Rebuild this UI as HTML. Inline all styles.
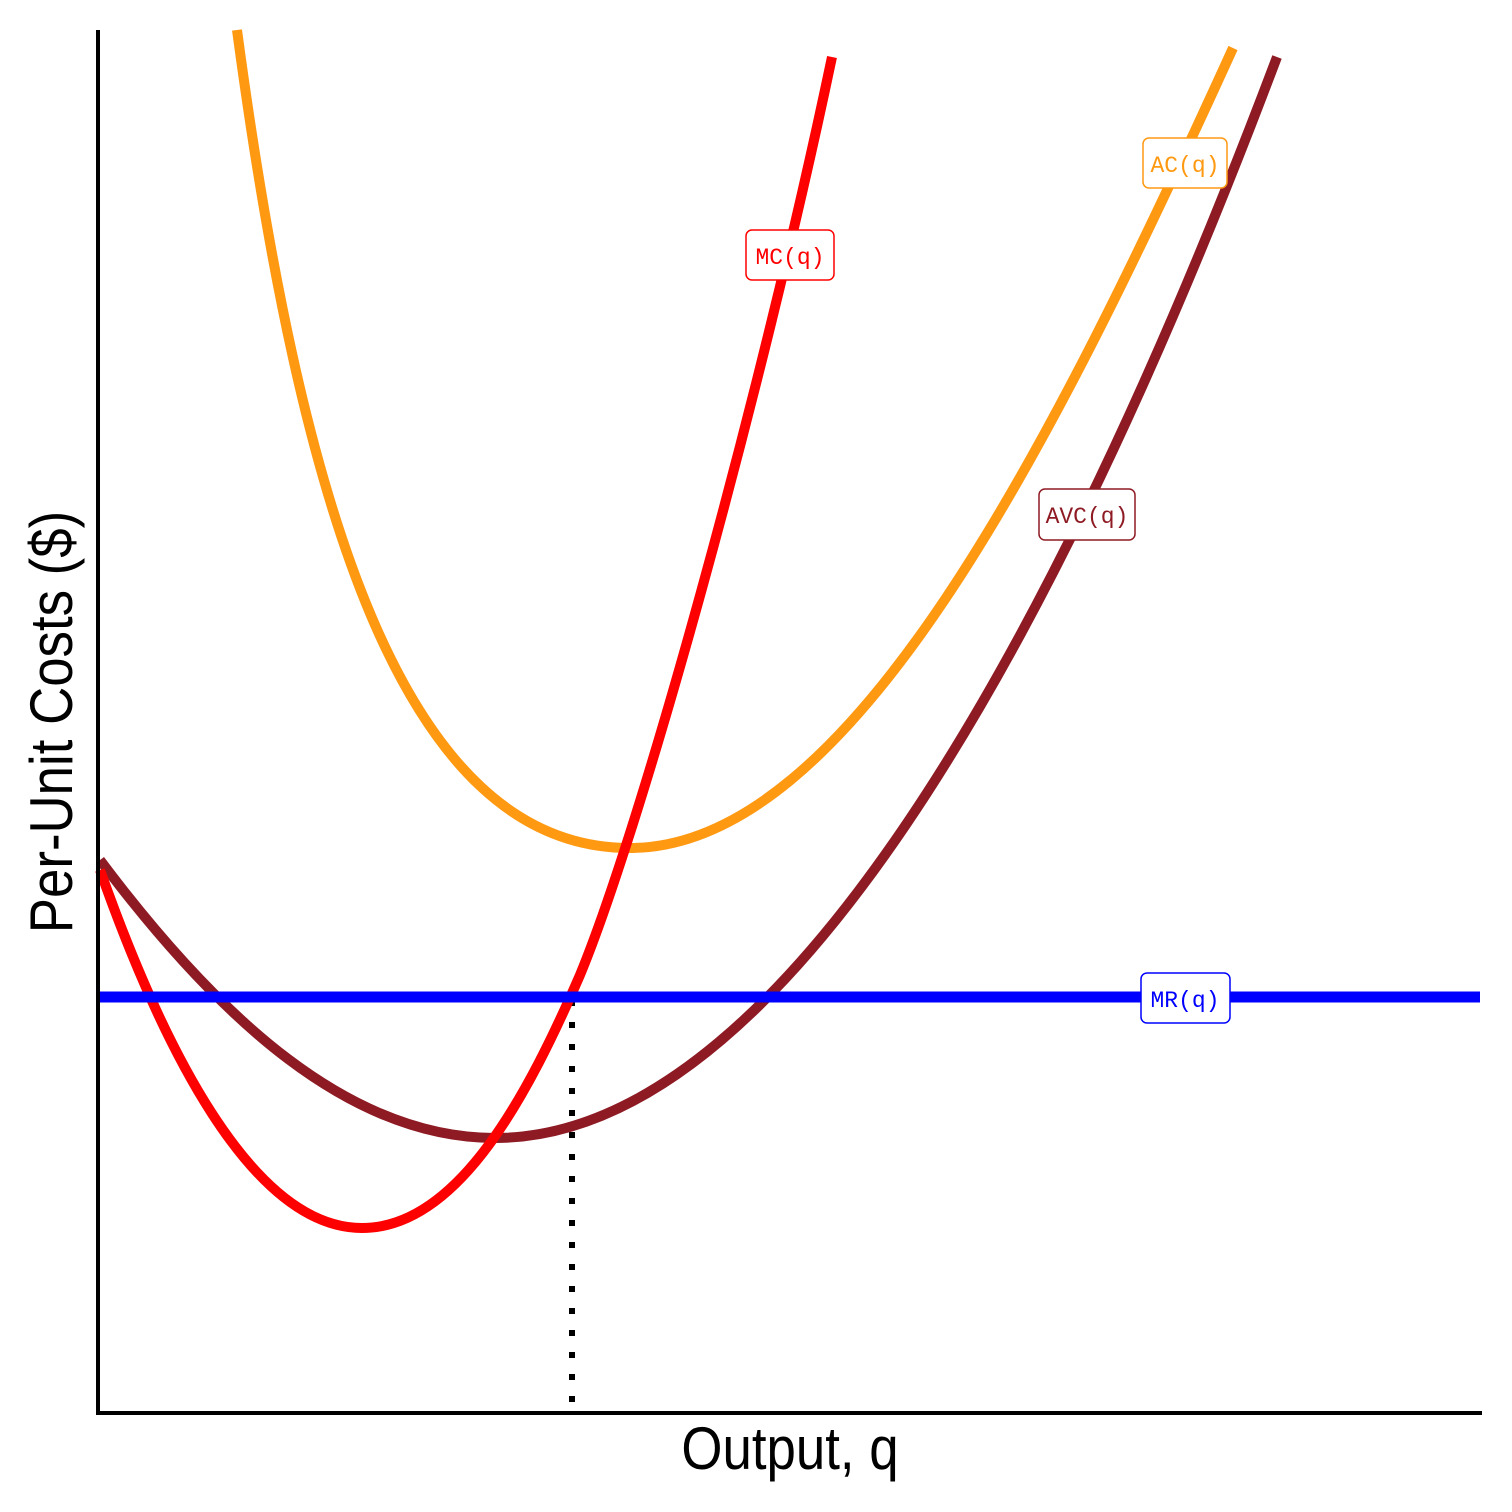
<!DOCTYPE html>
<html><head><meta charset="utf-8"><style>
html,body{margin:0;padding:0;background:#fff;}
svg{display:block;}
text{font-family:"Liberation Sans",sans-serif;}
.lab{font-family:"Liberation Mono",monospace;font-size:23px;}
</style></head><body>
<svg width="1512" height="1512" viewBox="0 0 1512 1512" xmlns="http://www.w3.org/2000/svg">
<rect width="1512" height="1512" fill="#fff"/>
<line x1="572" y1="1000" x2="572" y2="1416" stroke="#000" stroke-width="6" stroke-dasharray="6,16"/>
<path d="M237,30 C300,500 400,848 630,848 C850,848 1050,450 1233,48" fill="none" stroke="#FF9912" stroke-width="10"/>
<path d="M100,860 C220,1020 350,1138 495,1138 C800,1138 1080,580 1277,57" fill="none" stroke="#8E1B24" stroke-width="10"/>
<path d="M100,870 C160,1040 250,1228 362,1228 C460,1228 530,1090 580,975 C640,830 760,400 832,57" fill="none" stroke="#FF0000" stroke-width="10"/>
<line x1="100" y1="997" x2="1480" y2="997" stroke="#0000FF" stroke-width="11"/>
<line x1="98" y1="30" x2="98" y2="1415" stroke="#000" stroke-width="4"/>
<line x1="96" y1="1413" x2="1482" y2="1413" stroke="#000" stroke-width="4"/>
<rect x="746" y="230" width="88" height="50" rx="6" fill="#fff" stroke="#FF0000" stroke-width="1.5"/>
<text class="lab" x="790" y="264" text-anchor="middle" fill="#FF0000">MC(q)</text>
<rect x="1143" y="138" width="84" height="50" rx="6" fill="#fff" stroke="#FF9912" stroke-width="1.5"/>
<text class="lab" x="1185" y="172" text-anchor="middle" fill="#FF9912">AC(q)</text>
<rect x="1039" y="489" width="96" height="51" rx="6" fill="#fff" stroke="#8E1B24" stroke-width="1.5"/>
<text class="lab" x="1087" y="523" text-anchor="middle" fill="#8E1B24">AVC(q)</text>
<rect x="1141" y="973" width="89" height="50" rx="6" fill="#fff" stroke="#0000FF" stroke-width="1.5"/>
<text class="lab" x="1185" y="1007" text-anchor="middle" fill="#0000FF">MR(q)</text>
<g transform="translate(790,1469) scale(0.88,1)">
<text x="0" y="0" text-anchor="middle" font-size="60" fill="#000">Output, q</text>
</g>
<g transform="translate(72,722) rotate(-90) scale(0.88,1)">
<text x="0" y="0" text-anchor="middle" font-size="60" fill="#000">Per-Unit Costs ($)</text>
</g>
</svg>
</body></html>
